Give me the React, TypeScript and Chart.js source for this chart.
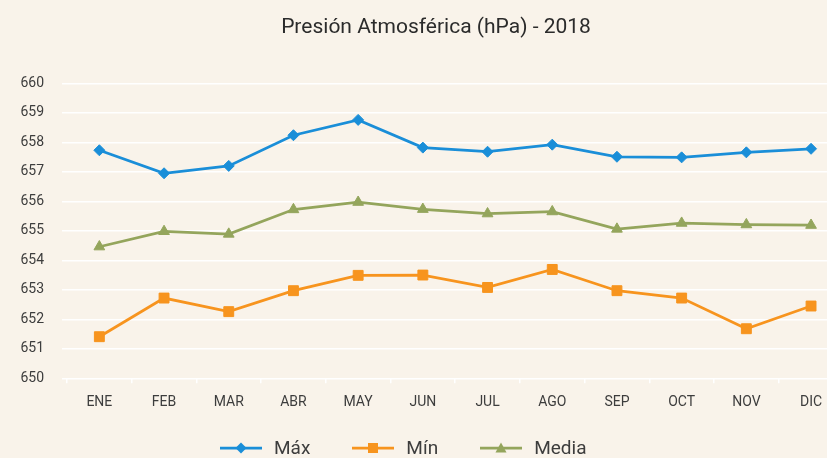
import React, { useEffect, useRef } from "react";
import { Chart, registerables } from "chart.js";

Chart.register(...registerables);

const TITLE = "Presión Atmosférica (hPa) - 2018";
const MONTHS = ["ENE", "FEB", "MAR", "ABR", "MAY", "JUN", "JUL", "AGO", "SEP", "OCT", "NOV", "DIC"];
const MAX_VALUES = [657.73, 656.95, 657.2, 658.24, 658.76, 657.82, 657.68, 657.92, 657.51, 657.49, 657.66, 657.78];
const MIN_VALUES = [651.41, 652.72, 652.26, 652.97, 653.49, 653.5, 653.08, 653.69, 652.97, 652.72, 651.68, 652.45];
const MEDIA_VALUES = [654.46, 654.98, 654.89, 655.72, 655.97, 655.73, 655.58, 655.65, 655.06, 655.26, 655.21, 655.19];
const Y_MIN = 650;
const Y_MAX = 660;
const Y_STEP = 1;

const BG = "#F9F3EA";
const BLUE = "#1A8ED8";
const ORANGE = "#F7941E";
const GREEN = "#94A55C";
const TEXT = "#3d3d3d";
const TITLE_COLOR = "#2b2b2b";
const FONT = "Roboto, 'DejaVu Sans', sans-serif";

const SERIES = [
  { label: "Máx", data: MAX_VALUES, color: BLUE, style: "rectRot", radius: 5.5 },
  { label: "Mín", data: MIN_VALUES, color: ORANGE, style: "rect", radius: 7 },
  { label: "Media", data: MEDIA_VALUES, color: GREEN, style: "triangle", radius: 6.2 },
];

function Swatch({ color, style }: { color: string; style: string }) {
  let marker: React.ReactNode = null;
  if (style === "rectRot") {
    marker = <polygon points="21,1.5 26.5,7 21,12.5 15.5,7" fill={color} />;
  } else if (style === "rect") {
    marker = <rect x={16} y={2} width={10} height={10} fill={color} />;
  } else {
    marker = <polygon points="21,1.5 26.5,11.5 15.5,11.5" fill={color} />;
  }
  return (
    <svg width={42} height={14} style={{ display: "block" }}>
      <line x1={0} y1={7} x2={42} y2={7} stroke={color} strokeWidth={2.75} />
      {marker}
    </svg>
  );
}

export default function App() {
  const canvasRef = useRef<HTMLCanvasElement | null>(null);

  useEffect(() => {
    const canvas = canvasRef.current;
    if (!canvas) return;
    const chart = new Chart(canvas, {
      type: "line",
      data: {
        labels: MONTHS,
        datasets: SERIES.map((s) => ({
          label: s.label,
          data: s.data,
          borderColor: s.color,
          backgroundColor: s.color,
          borderWidth: 2.75,
          pointStyle: s.style as any,
          pointRadius: s.radius,
          pointBorderWidth: 1,
          pointBackgroundColor: s.color,
          pointBorderColor: s.color,
          tension: 0,
          fill: false,
        })),
      },
      options: {
        animation: false,
        responsive: false,
        maintainAspectRatio: false,
        layout: { padding: 0 },
        plugins: {
          legend: { display: false },
          tooltip: { enabled: false },
          title: {
            display: true,
            text: TITLE,
            color: TITLE_COLOR,
            font: { family: FONT, size: 21, weight: "normal", lineHeight: 1.2 },
            padding: { top: 15.6, bottom: 42.5 },
          },
        },
        scales: {
          x: {
            type: "category",
            offset: true,
            grid: {
              display: true,
              drawOnChartArea: false,
              drawTicks: true,
              tickLength: 5,
              color: "#ffffff",
              lineWidth: 1.5,
              offset: true,
            },
            border: { display: false },
            ticks: {
              color: TEXT,
              font: { family: FONT, size: 14 },
              padding: 11,
              maxRotation: 0,
              autoSkip: false,
            },
            afterFit: (scale: any) => {
              scale.height = 91.7;
            },
          },
          y: {
            type: "linear",
            min: Y_MIN,
            max: Y_MAX,
            grid: {
              color: "#ffffff",
              lineWidth: 1.5,
              drawTicks: true,
              tickLength: 5,
            },
            border: { display: false },
            ticks: {
              stepSize: Y_STEP,
              color: TEXT,
              font: { family: FONT, size: 14 },
              padding: 18,
            },
            afterFit: (scale: any) => {
              scale.width = 67;
            },
          },
          yRight: {
            type: "linear",
            position: "right",
            display: true,
            grid: { display: false, drawTicks: false },
            border: { display: false },
            ticks: { display: false },
            afterFit: (scale: any) => {
              scale.width = 28.6;
            },
          },
        },
      },
    });
    return () => chart.destroy();
  }, []);

  return (
    <div
      style={{
        position: "fixed",
        left: 0,
        top: 0,
        width: 827,
        height: 458,
        overflow: "hidden",
        background: BG,
      }}
    >
      <canvas ref={canvasRef} width={872} height={470} style={{ display: "block", width: 872, height: 470 }} />
      <div
        style={{
          position: "absolute",
          left: 220,
          top: 436,
          display: "flex",
          alignItems: "center",
          gap: 42,
          fontFamily: FONT,
          fontSize: 19,
          color: TEXT,
          lineHeight: "24px",
        }}
      >
        {SERIES.map((s) => (
          <div key={s.label} style={{ display: "flex", alignItems: "center", gap: 12 }}>
            <Swatch color={s.color} style={s.style} />
            <span>{s.label}</span>
          </div>
        ))}
      </div>
    </div>
  );
}
